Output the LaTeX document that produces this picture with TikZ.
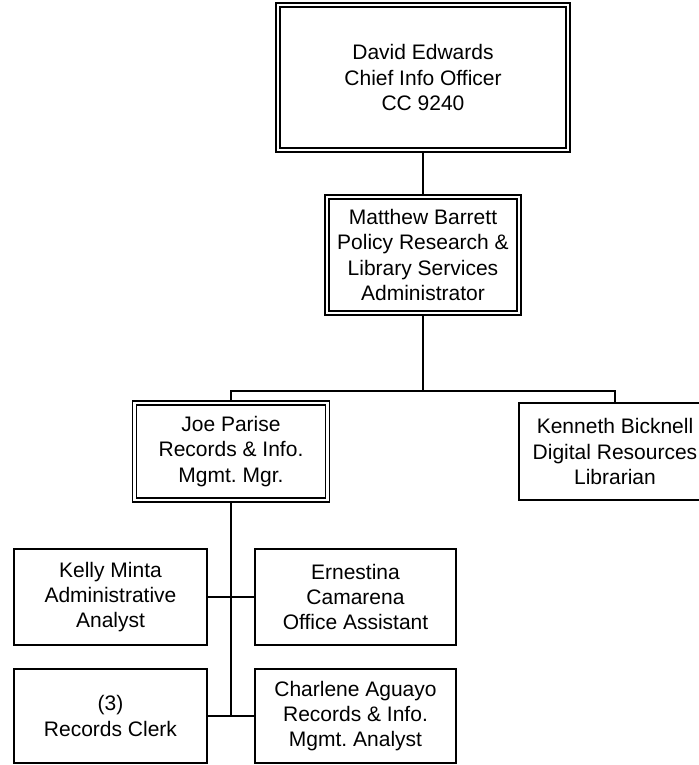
\documentclass[tikz,border=0pt]{standalone}
\usepackage{fontspec}
\setmainfont{Liberation Sans}
\usetikzlibrary{positioning,backgrounds}
\tikzset{
  staffbox/.style={draw,line width=1pt,align=center,inner sep=0pt,outer sep=0pt,
                   minimum width=96.5pt,minimum height=48pt,
                   font=\fontsize{10.5}{12.6}\selectfont\frenchspacing},
  headbox/.style={staffbox,double,double distance=1.3pt,line width=0.8pt},
  orgline/.style={line width=1pt}
}

\begin{document}
\begin{tikzpicture}[node distance=12pt]
  \useasboundingbox (0,0) rectangle (349pt,-382.5pt);
  \node[headbox,minimum width=145pt,minimum height=72.5pt] (ceo) at (211.5pt,-38.75pt) {David Edwards\\Chief Info Officer\\CC 9240};
  \node[headbox,below=23.5pt of ceo,minimum width=96pt,minimum height=58pt] (policy) {Matthew Barrett\\Policy Research \&\\Library Services\\Administrator};
  \node[headbox,below=45pt of policy,xshift=-96pt,minimum height=48.5pt] (records) {Joe Parise\\Records \& Info.\\Mgmt. Mgr.};
  \node[staffbox,below=45pt of policy,xshift=96pt,minimum width=96pt,minimum height=48.5pt] (library) {Kenneth Bicknell\\Digital Resources\\Librarian};
  \node[staffbox,below=24.5pt of records,xshift=-60.25pt] (analyst) {Kelly Minta\\Administrative\\Analyst};
  \node[staffbox,below=24.5pt of records,xshift=62.25pt,minimum width=100.5pt] (assistant) {Ernestina\\Camarena\\Office Assistant};
  \node[staffbox,below=of analyst,minimum height=47pt] (clerk) {(3)\\Records Clerk};
  \node[staffbox,below=of assistant,minimum width=100.5pt,minimum height=47pt] (rimanalyst) {Charlene Aguayo\\Records \& Info.\\Mgmt. Analyst};
  \coordinate[below=39pt of policy] (bus);

  \begin{scope}[on background layer]
    \draw[orgline] (ceo) -- (policy);
    \draw[orgline] (policy) -- (bus);
    \draw[orgline] (records) |- (bus) -| (library);
    \draw[orgline] (records) -- (records |- clerk);
    \draw[orgline] (analyst) -- (assistant);
    \draw[orgline] (clerk) -- (rimanalyst);
  \end{scope}
\end{tikzpicture}
\end{document}
